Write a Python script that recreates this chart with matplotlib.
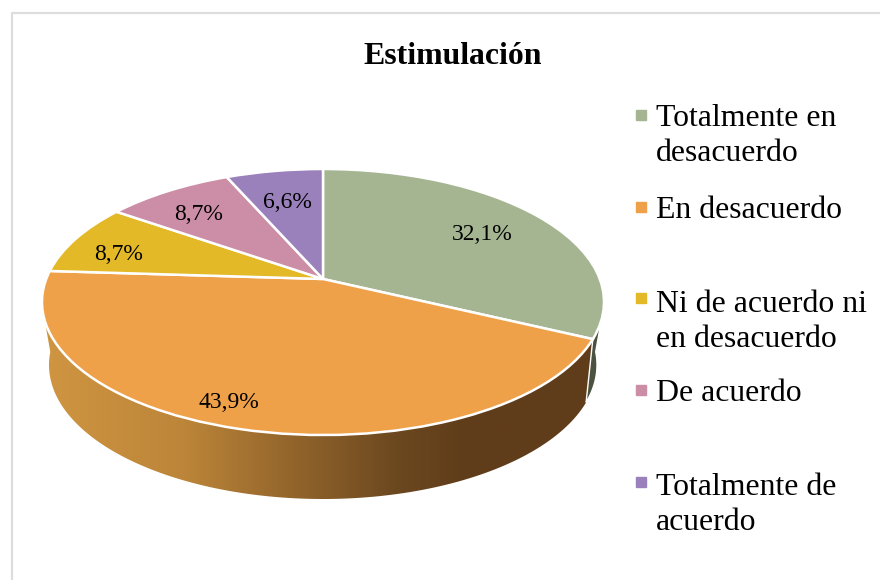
import matplotlib
matplotlib.use("Agg")
import matplotlib.pyplot as plt
import numpy as np
from matplotlib.colors import LinearSegmentedColormap
from matplotlib.transforms import Transform

plt.rcParams['font.family'] = ['Liberation Serif', 'DejaVu Serif']

# data
titulo = "Estimulación"
categorias = ["Totalmente en\ndesacuerdo", "En desacuerdo", "Ni de acuerdo ni\nen desacuerdo",
              "De acuerdo", "Totalmente de\nacuerdo"]
valores = [32.1, 43.9, 8.7, 8.7, 6.6]
colores = ["#A5B592", "#EEA149", "#E3B927", "#CC8DA6", "#9A81BB"]

# layout, in pixels of the 880x580 picture
CX, CY, RX, RY = 323., 302., 281., 133.      # top ellipse
BY, BRX, BRY = 365., 274., 134.              # bottom ellipse
K = 0.173                                    # how far the apex sits above the ellipse centre
pos_pct = [(482, 234), (229, 403), (119, 254), (199, 215), (287, 202)]
pos_leyenda = [(115, 161), (207, 218), (298, 347), (390, 401), (482, 530)]


class Inclinado(Transform):
    # unit circle of the pie -> tilted ellipse, apex moved up like a perspective view
    input_dims = 2
    output_dims = 2

    def transform_non_affine(self, xy):
        xy = np.asarray(xy, dtype=float)
        u, v = xy[:, 0], xy[:, 1]
        den = 1. + K * v
        return np.column_stack((CX + RX * u * np.sqrt(1. - K ** 2) / den,
                                CY - RY * (v + K) / den))


def arco(cy, rx, ry, a0, a1):
    t = np.radians(np.linspace(a0, a1, 200))
    return np.column_stack((CX + rx * np.cos(t), cy - ry * np.sin(t)))


def pared(a_top, a_bot, a_fin):
    # side wall between the rim angle a_fin and the visible edge of the cake
    arriba = arco(CY, RX, RY, a_fin, a_top)
    abajo = arco(BY, BRX, BRY, a_bot, a_fin)
    return np.vstack((arriba, abajo))


fig = plt.figure(figsize=(8.8, 5.8), dpi=100)
ax = fig.add_axes([0, 0, 1, 1])

wedges, _ = ax.pie(valores, colors=colores, startangle=90, counterclock=False,
                   wedgeprops={'edgecolor': 'white', 'linewidth': 1.8, 'zorder': 3})
inc = Inclinado()
for w in wedges:
    w.set_transform(inc + ax.transData)

# angle on the rim where the first slice ends
ang = np.radians(90. - 360. * valores[0] / sum(valores))
p = inc.transform_non_affine(np.array([[np.cos(ang), np.sin(ang)]]))[0]
a_fin = np.degrees(np.arctan2((CY - p[1]) / RY, (p[0] - CX) / RX))

# orange wall with the dark gradient
pts = pared(-172., -185.6, a_fin)
poly = ax.fill(pts[:, 0], pts[:, 1], color="#8D6029", ec='white', lw=1.2, zorder=1)[0]
cmap = LinearSegmentedColormap.from_list("pared", [(0., "#CF9541"), (0.25, "#BC8539"), (0.46, "#8F622A"),
                                                   (0.63, "#6C4820"), (0.75, "#603D1A"), (1., "#603D1A")])
img = ax.imshow(np.linspace(0, 1, 256).reshape(1, -1), cmap=cmap, extent=(44, 604, 500, 300),
                aspect='auto', zorder=1.5)
img.set_clip_path(poly)

# dark green sliver on the right
pts = pared(-8., 5.6, a_fin)
ax.fill(pts[:, 0], pts[:, 1], color="#4B5240", ec='white', lw=1., zorder=1.6)

ax.set_aspect('auto')
ax.set_xlim(0, 880)
ax.set_ylim(580, 0)
ax.axis('off')

# chart frame, cut by the picture on the right and at the bottom
ax.plot([12, 12, 880], [580, 13, 13], color="#DDDDDD", lw=1.6, zorder=0)

for v, (x, y) in zip(valores, pos_pct):
    ax.text(x, y, f"{v:.1f}%".replace('.', ','), ha='center', va='center', fontsize=17, color='black', zorder=5)

ax.text(453, 56.5, titulo, ha='center', va='center', fontsize=22.9, fontweight='bold', color='black')

for cat, col, (ym, yb) in zip(categorias, colores, pos_leyenda):
    ax.plot([640.5], [ym], marker='s', ms=7, mfc=col, mec=col, ls='none')
    ax.text(656, yb, cat, ha='left', va='baseline', fontsize=22.9, color='black', linespacing=1.29)

fig.savefig("out.png", dpi=100)
